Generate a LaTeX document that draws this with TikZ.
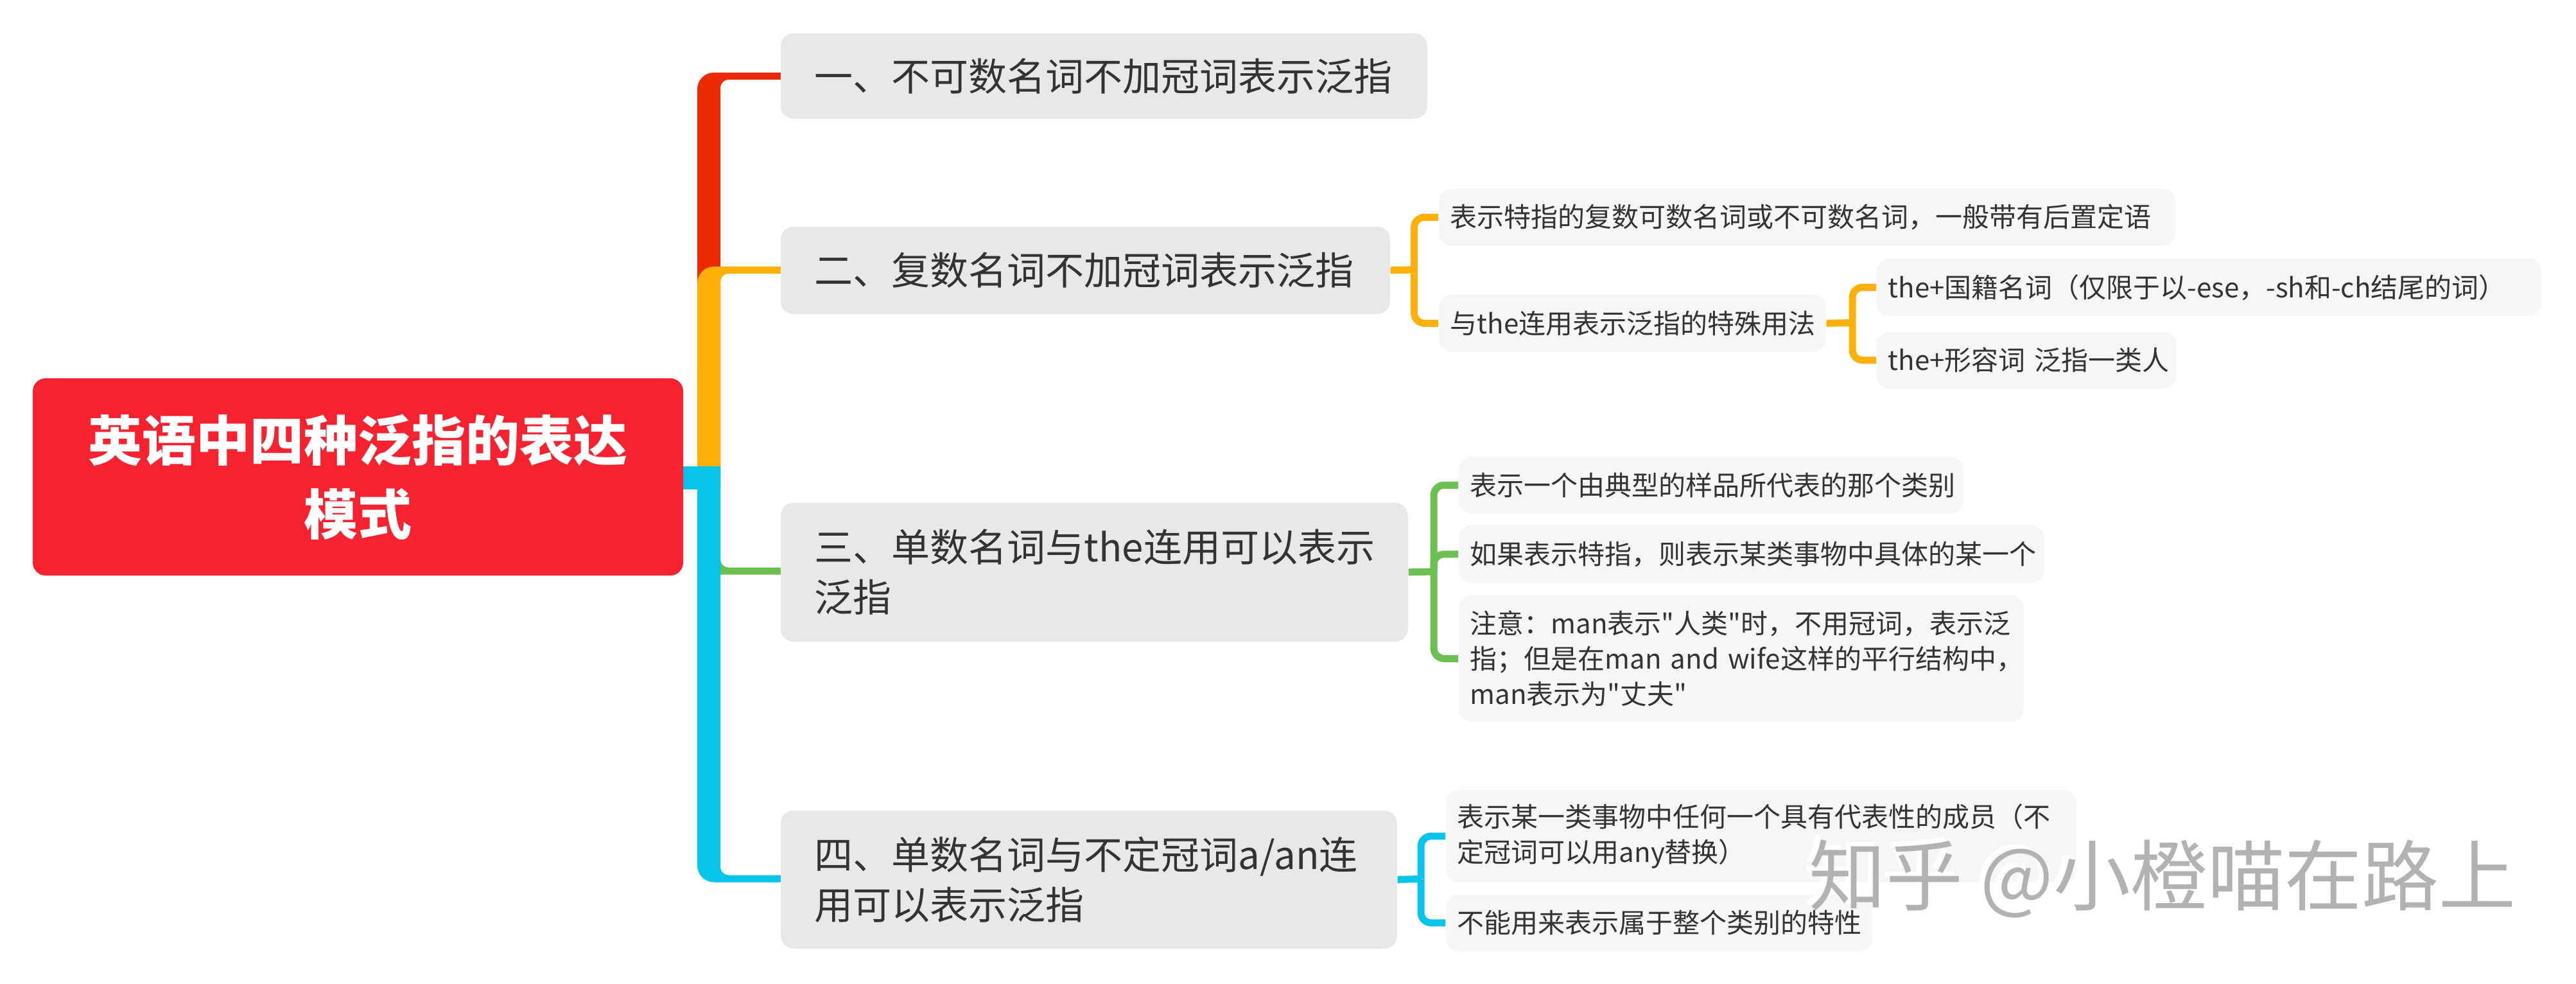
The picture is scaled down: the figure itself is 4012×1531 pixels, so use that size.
\documentclass[tikz,border=0pt]{standalone}
\usepackage{fontspec}
\setmainfont{Noto Sans CJK SC}[Ligatures=TeXOff]
\definecolor{rootred}{RGB}{247,34,48}
\definecolor{cred}{RGB}{236,43,5}
\definecolor{corange}{RGB}{253,176,10}
\definecolor{cgreen}{RGB}{108,192,80}
\definecolor{ccyan}{RGB}{6,196,234}
\definecolor{mainfill}{RGB}{232,232,232}
\definecolor{subfill}{RGB}{246,246,246}
\definecolor{txt}{RGB}{51,51,51}
\definecolor{wmgray}{RGB}{178,178,178}
\begin{document}
\begin{tikzpicture}[x=0.25pt,y=-0.25pt,
  rootbox/.style={fill=rootred, rounded corners=5pt, inner sep=0pt, align=center, text=white,
    font=\bfseries\fontsize{21}{28.75}\selectfont},
  mainbox/.style={fill=mainfill, rounded corners=5pt, anchor=north west, inner xsep=13.25pt,
    inner ysep=0pt, align=left, text=txt, font=\fontsize{15}{19.5}\selectfont},
  subbox/.style={fill=subfill, rounded corners=5pt, anchor=north west, inner xsep=4.5pt,
    inner ysep=0pt, align=left, text=txt, font=\fontsize{10.5}{13.75}\selectfont},
  conn/.style={line width=2.75pt},
  wm/.style={font=\fontsize{30}{30}\selectfont, inner sep=0pt}
]
\useasboundingbox (0,0) rectangle (4012,1531);

% main branches (tapered)
\fill[cred] (1086,762) -- (1086,139) .. controls (1086,124.6) and (1097.6,113) .. (1112,113)
  -- (1216,113) -- (1216,124) -- (1134,124) .. controls (1128.6,124) and (1122,129.4) .. (1122,136)
  -- (1122,762) -- cycle;
\fill[cgreen] (1086,726) -- (1086,868.5) .. controls (1086,882.9) and (1097.6,894.5) .. (1112,894.5)
  -- (1216,894.5) -- (1216,883.5) -- (1134,883.5) .. controls (1128.6,883.5) and (1122,878.1) .. (1122,871.5)
  -- (1122,726) -- cycle;
\fill[corange] (1086,762) -- (1086,441) .. controls (1086,426.6) and (1097.6,415) .. (1112,415)
  -- (1216,415) -- (1216,426) -- (1134,426) .. controls (1128.6,426) and (1122,431.4) .. (1122,438)
  -- (1122,762) -- cycle;
\fill[ccyan] (1086,726) -- (1086,1347.5) .. controls (1086,1361.9) and (1097.6,1373.5) .. (1112,1373.5)
  -- (1216,1373.5) -- (1216,1362.5) -- (1134,1362.5) .. controls (1128.6,1362.5) and (1122,1357.1) .. (1122,1350.5)
  -- (1122,726) -- cycle;
\fill[ccyan] (1058,726) rectangle (1090,762);

% root
\node[rootbox, minimum width=253.25pt, minimum height=76.75pt] (root) at (557.5,742.5)
  {英语中四种泛指的表达\\模式};

% main topics
\node[mainbox, text width=225.25pt, minimum height=33.25pt] (b1) at (1215,51) {一、不可数名词不加冠词表示泛指};
\node[mainbox, text width=210.75pt, minimum height=34pt] (b2) at (1215,352) {二、复数名词不加冠词表示泛指};
\node[mainbox, text width=217.75pt, minimum height=54pt] (b3) at (1215,782) {三、单数名词与the连用可以表示\\泛指};
\node[mainbox, text width=213.5pt, minimum height=53.75pt] (b4) at (1215,1261) {四、单数名词与不定冠词a/an连\\用可以表示泛指};

% subtopics
\node[subbox, text width=277.75pt, minimum height=22.25pt] (s2a) at (2240,293) {表示特指的复数可数名词或不可数名词，一般带有后置定语};
\node[subbox, text width=141.75pt, minimum height=22.25pt] (s2b) at (2240,458) {与the连用表示泛指的特殊用法};
\node[subbox, text width=249.75pt, minimum height=22.25pt] (s2b1) at (2922,402) {the+国籍名词（仅限于以-ese，-sh和-ch结尾的词）};
\node[subbox, text width=107.75pt, minimum height=22pt] (s2b2) at (2922,516) {the+形容词~泛指一类人};
\node[subbox, text width=187.5pt, minimum height=22.25pt] (s3a) at (2271,710) {表示一个由典型的样品所代表的那个类别};
\node[subbox, text width=219pt, minimum height=22.5pt] (s3b) at (2271,817) {如果表示特指，则表示某类事物中具体的某一个};
\node[subbox, text width=211pt, minimum height=49.25pt] (s3c) at (2271,926) {\mbox{注意：man表示"人类"时，不用冠词，表示泛}\\\mbox{指；但是在man and wife这样的平行结构中，}\\\mbox{man表示为"丈夫"}};
\node[subbox, text width=236.5pt, minimum height=36pt] (s4a) at (2251,1229) {表示某一类事物中任何一个具有代表性的成员（不\\定冠词可以用any替换）};
\node[subbox, text width=157pt, minimum height=22pt] (s4b) at (2251,1392) {不能用来表示属于整个类别的特性};

% sub connectors
\coordinate (j2) at (2202.5,420);
\coordinate (j2b) at (2885,502.5);
\coordinate (j3) at (2233,890);
\coordinate (j4) at (2213,1368.5);
\draw[conn, corange] (b2.east) -- (j2);
\draw[conn, corange, rounded corners=4pt] (j2) |- (s2a.west);
\draw[conn, corange, rounded corners=4pt] (j2) |- (s2b.west);
\draw[conn, corange] (s2b.east) -- (j2b);
\draw[conn, corange, rounded corners=4pt] (j2b) |- (s2b1.west);
\draw[conn, corange, rounded corners=4pt] (j2b) |- (s2b2.west);
\draw[conn, cgreen] (b3.east) -- (j3);
\draw[conn, cgreen, rounded corners=4pt] (j3) |- (s3a.west);
\draw[conn, cgreen, rounded corners=4pt] (j3) |- (s3b.west);
\draw[conn, cgreen, rounded corners=4pt] (j3) |- (s3c.west);
\draw[conn, ccyan] (b4.east) -- (j4);
\draw[conn, ccyan, rounded corners=4pt] (j4) |- (s4a.west);
\draw[conn, ccyan, rounded corners=4pt] (j4) |- (s4b.west);

% watermark
\node[wm, text=white] (wmshadow) at (3360,1361) {知乎 @小橙喵在路上};
\node[wm, text=wmgray] (wmark) at (3368,1368) {知乎 @小橙喵在路上};
\end{tikzpicture}
\end{document}
